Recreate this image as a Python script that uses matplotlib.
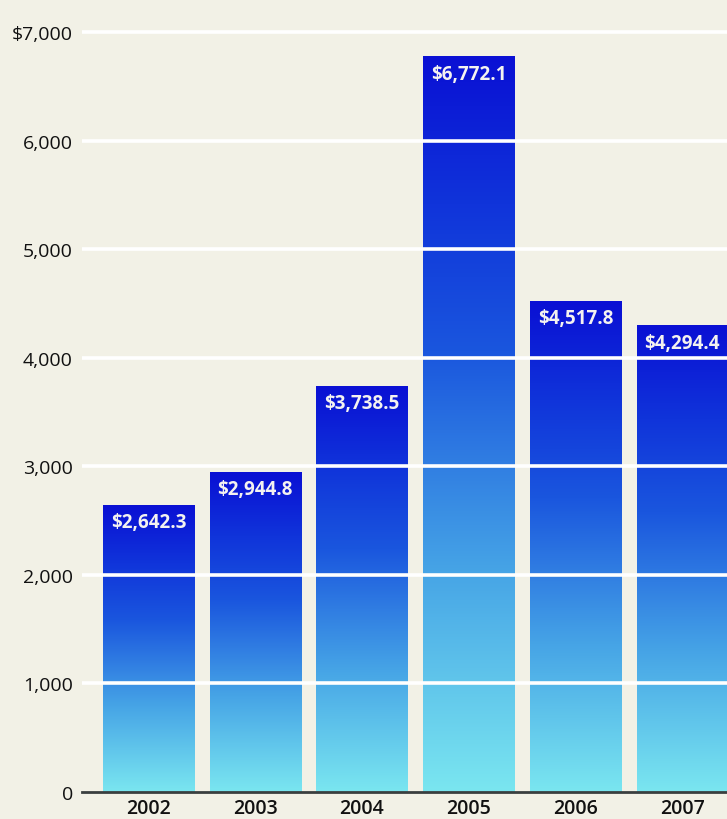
import numpy as np
import matplotlib
matplotlib.use('Agg')
import matplotlib.pyplot as plt
from matplotlib.colors import LinearSegmentedColormap

# Data
years = ['2002', '2003', '2004', '2005', '2006', '2007']
values = [2642.3, 2944.8, 3738.5, 6772.1, 4517.8, 4294.4]
y_ticks = [0, 1000, 2000, 3000, 4000, 5000, 6000, 7000]
y_tick_labels = ['0', '1,000', '2,000', '3,000', '4,000', '5,000', '6,000', '$7,000']

bg = '#f2f1e6'
grad = LinearSegmentedColormap.from_list(
    'bar', [(0.0, '#7ae6f0'), (0.3, '#46a4e6'), (0.6, '#1a56de'),
            (0.8, '#1034da'), (1.0, '#0a10d4')])

fig = plt.figure(figsize=(7.27, 8.20), dpi=100, facecolor=bg)
# axes in pixel coordinates: left 82, right 727, y=0 at 793, 7000 at 33
W, H = 727, 820
ax = fig.add_axes([82 / W, (H - 793) / H, (727 - 82) / W, (793 - 20) / H])
ax.set_facecolor(bg)

px_per_unit = 760 / 7000
ymax = 7000 + (33 - 20) / px_per_unit

width = 0.853
x = np.arange(len(years))
g = np.linspace(0, 1, 256).reshape(-1, 1)
for xi, v in zip(x, values):
    ax.imshow(g, cmap=grad, origin='lower', aspect='auto',
              extent=[xi - width / 2, xi + width / 2, 0, v], zorder=2)
    ax.text(xi, v - 17 / px_per_unit, f'${v:,.1f}', ha='center', va='center',
            color='#f4f2f0', fontsize=13.5, fontweight='bold', family='Open Sans',
            zorder=4)

ax.set_xlim(-0.623, 5.42)
ax.set_ylim(0, ymax)

# white gridlines over the bars
for t in y_ticks[1:]:
    ax.axhline(t, color='white', lw=2.6, zorder=3)

ax.set_yticks(y_ticks)
ax.set_yticklabels(y_tick_labels, fontsize=14, family='Open Sans')
ax.set_xticks(x)
ax.set_xticklabels(years, fontsize=14, family='Open Sans', fontweight='semibold')
ax.tick_params(axis='both', length=0, colors='#111111')
ax.tick_params(axis='y', pad=6.5)
ax.tick_params(axis='x', pad=4.5)

for s in ['top', 'right', 'left']:
    ax.spines[s].set_visible(False)
ax.spines['bottom'].set_color('#3a3f3f')
ax.spines['bottom'].set_linewidth(2)
ax.spines['bottom'].set_zorder(5)

plt.savefig('out.png', dpi=100, facecolor=bg)
